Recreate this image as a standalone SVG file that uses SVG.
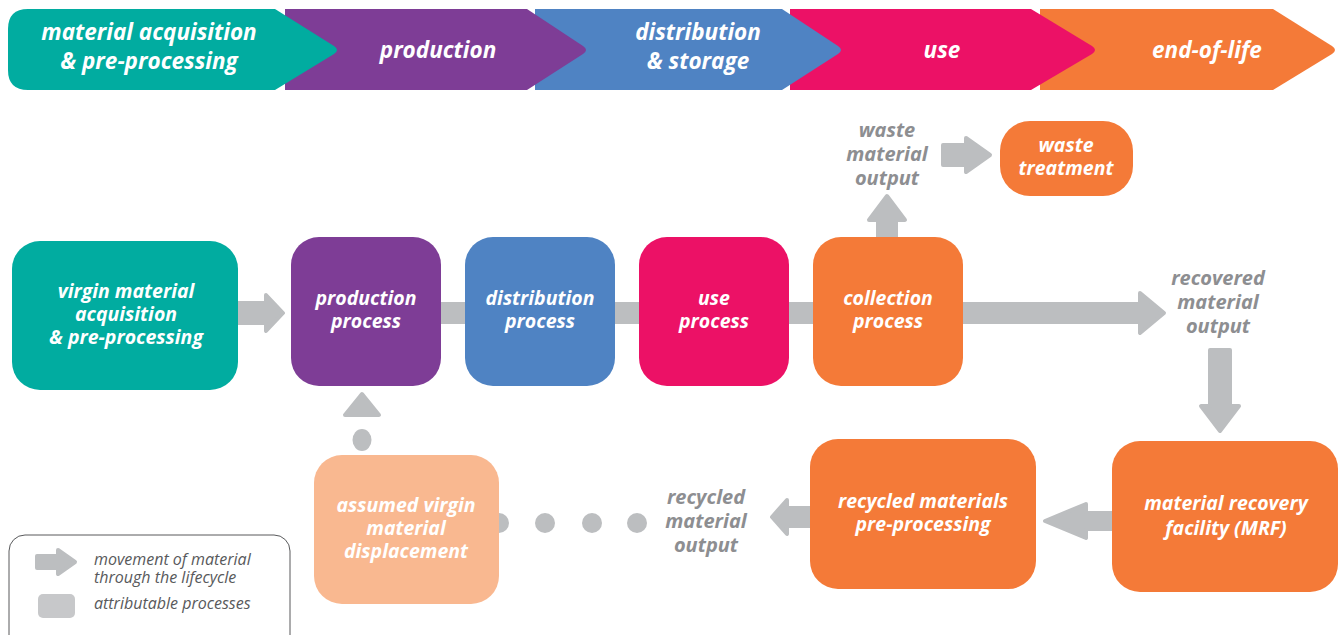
<svg xmlns="http://www.w3.org/2000/svg" width="1340" height="635" viewBox="0 0 1340 635">
<style>
.t{font-family:"Open Sans",Lato,"Liberation Sans",sans-serif;font-style:italic;font-weight:700;fill:#fff;text-anchor:middle}
.hd{font-size:22.5px}
.bx{font-size:19.5px}
.lb{font-family:"Open Sans",Lato,"Liberation Sans",sans-serif;font-style:italic;font-weight:700;fill:#8d8e91;text-anchor:middle;font-size:20px}
.lg{font-family:"Open Sans",Lato,"Liberation Sans",sans-serif;font-style:italic;fill:#58595b;font-size:16px}
.ar{fill:#bcbec0;stroke:#bcbec0;stroke-width:4;stroke-linejoin:round}
.dot{fill:#bcbec0}
</style>
<rect width="1340" height="635" fill="#fff"/>
<g id="phases">
<g id="phase-eol"><path d="M1040,9 H1273 L1332,46 Q1338,50 1332,54 L1273,90 H1040 Z" fill="#f47a38"/><text class="t hd" x="1207" y="58">end-of-life</text></g>
<g id="phase-use"><path d="M790,9 H1031 L1092,46 Q1098,50 1092,54 L1031,90 H790 Z" fill="#ec1166"/><text class="t hd" x="942" y="58">use</text></g>
<g id="phase-dist"><path d="M535,9 H782 L838,46 Q844,50 838,54 L782,90 H535 Z" fill="#4f83c3"/><text class="t hd" x="698" y="40">distribution</text><text class="t hd" x="698" y="69">&amp; storage</text></g>
<g id="phase-prod"><path d="M285,9 H527 L583,46 Q589,50 583,54 L527,90 H285 Z" fill="#7e3d96"/><text class="t hd" x="438" y="58">production</text></g>
<g id="phase-mat"><path d="M28,9 H275 L334,46 Q340,50 334,54 L275,90 H28 Q8,90 8,70 V29 Q8,9 28,9 Z" fill="#01aca0"/><text class="t hd" x="149" y="40">material acquisition</text><text class="t hd" x="149" y="69">&amp; pre-processing</text></g>
</g>
<g id="connectors">
<path class="ar" d="M238,303 H266 V295 L283,313 L266,331 V323 H238 Z"/>
<rect x="430" y="302" width="712" height="22" fill="#bcbec0"/>
<path class="ar" d="M1140,302 V293 L1164,313 L1140,333 V324 H1140 Z"/>
<path class="ar" d="M878,238 V220 H869 L887,196 L905,220 H896 V238 Z"/>
<path class="ar" d="M943,145 H966 V138 L990,155 L966,172 V165 H943 Z"/>
<path class="ar" d="M1210,350 H1230 V406 H1239 L1220,431 L1201,406 H1210 Z"/>
<path class="ar" d="M1112,513 H1086 V504 L1045,521 L1086,538 V529 H1112 Z"/>
<path class="ar" d="M810,508 H787 V500 L772,517 L787,534 V526 H810 Z"/>
<circle class="dot" cx="499" cy="523" r="10"/>
<circle class="dot" cx="545" cy="523" r="10"/>
<circle class="dot" cx="592" cy="523" r="10"/>
<circle class="dot" cx="637" cy="523" r="10"/>
<ellipse class="dot" cx="362" cy="440" rx="9.5" ry="11"/>
<path class="ar" d="M362,394 L379,415 H345 Z"/>
</g>
<g id="node-virgin"><rect x="12" y="241" width="226" height="149" rx="28" fill="#01aca0"/><text class="t bx" x="126" y="298">virgin material</text><text class="t bx" x="126" y="321">acquisition</text><text class="t bx" x="126" y="344">&amp; pre-processing</text></g>
<g id="node-production"><rect x="291" y="237" width="150" height="149" rx="28" fill="#7e3d96"/><text class="t bx" x="366" y="305">production</text><text class="t bx" x="366" y="328">process</text></g>
<g id="node-distribution"><rect x="465" y="237" width="150" height="149" rx="28" fill="#4f83c3"/><text class="t bx" x="540" y="305">distribution</text><text class="t bx" x="540" y="328">process</text></g>
<g id="node-use"><rect x="639" y="237" width="150" height="149" rx="28" fill="#ec1166"/><text class="t bx" x="714" y="305">use</text><text class="t bx" x="714" y="328">process</text></g>
<g id="node-collection"><rect x="813" y="237" width="150" height="149" rx="28" fill="#f47a38"/><text class="t bx" x="888" y="305">collection</text><text class="t bx" x="888" y="328">process</text></g>
<g id="node-waste"><rect x="1000" y="121" width="133" height="75" rx="30" fill="#f47a38"/><text class="t bx" x="1066" y="152">waste</text><text class="t bx" x="1066" y="175">treatment</text></g>
<g id="node-mrf"><rect x="1112" y="441" width="226" height="151" rx="28" fill="#f47a38"/><text class="t bx" x="1226" y="510">material recovery</text><text class="t bx" x="1226" y="535">facility (MRF)</text></g>
<g id="node-recycled"><rect x="810" y="439" width="226" height="150" rx="28" fill="#f47a38"/><text class="t bx" x="923" y="508">recycled materials</text><text class="t bx" x="923" y="531">pre-processing</text></g>
<g id="node-displacement"><rect x="314" y="455" width="185" height="149" rx="28" fill="#f9b890"/><text class="t bx" x="406" y="512">assumed virgin</text><text class="t bx" x="406" y="535">material</text><text class="t bx" x="406" y="558">displacement</text></g>
<g id="labels">
<text class="lb" x="887" y="137">waste</text><text class="lb" x="887" y="161">material</text><text class="lb" x="887" y="185">output</text>
<text class="lb" x="1218" y="285">recovered</text><text class="lb" x="1218" y="309">material</text><text class="lb" x="1218" y="333">output</text>
<text class="lb" x="706" y="504">recycled</text><text class="lb" x="706" y="528">material</text><text class="lb" x="706" y="552">output</text>
</g>
<g id="legend">
<rect x="9" y="535" width="281" height="120" rx="16" fill="#fff" stroke="#58595b" stroke-width="1"/>
<path class="ar" d="M37,556 H58 V550 L75,562 L58,574 V568 H37 Z"/>
<rect x="38" y="594" width="37" height="24" rx="5" fill="#c7c8ca"/>
<text class="lg" x="94" y="565">movement of material</text>
<text class="lg" x="94" y="583">through the lifecycle</text>
<text class="lg" x="94" y="609">attributable processes</text>
</g>
</svg>
